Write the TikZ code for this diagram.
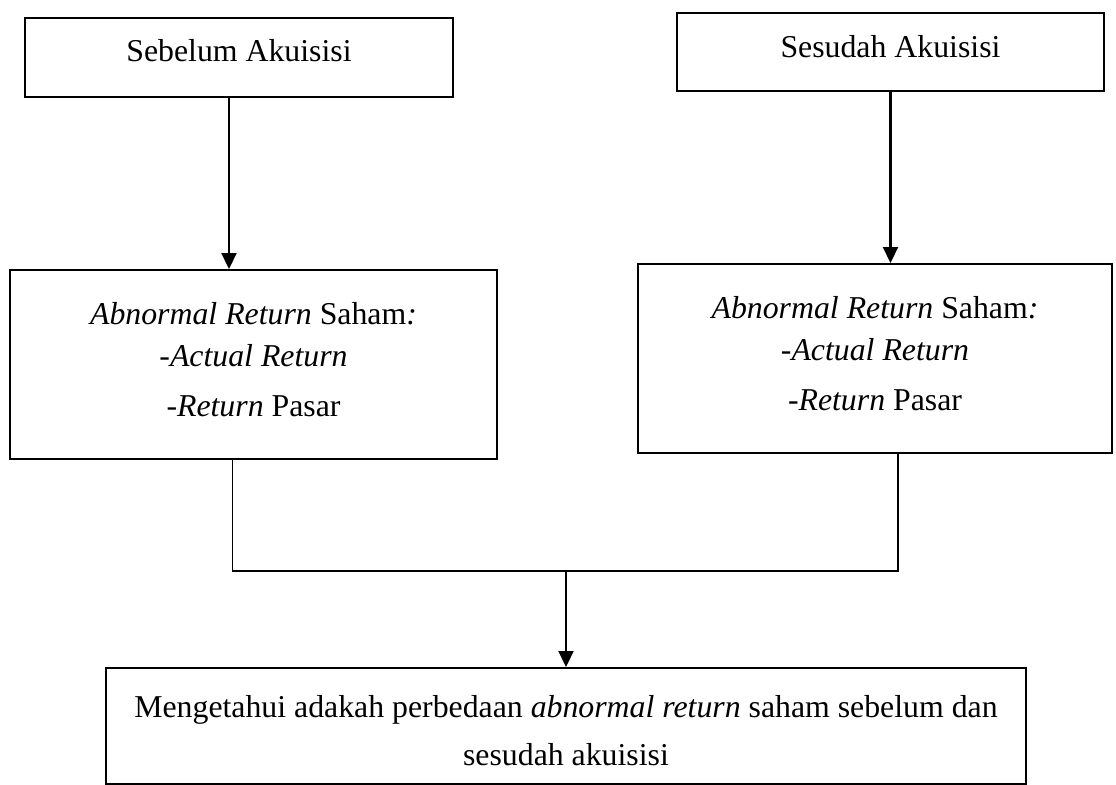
\documentclass[tikz,border=0pt]{standalone}
\usepackage{fontspec}
\setmainfont{Liberation Serif}
\usetikzlibrary{arrows.meta,positioning}

\tikzset{
  box/.style={draw, rectangle, line width=1pt, inner xsep=0pt, inner ysep=0pt,
    align=center, font=\fontsize{15.9}{21}\selectfont},
  link/.style={line width=0.8pt},
}

\begin{document}
\begin{tikzpicture}[x=0.5pt,y=-0.5pt,line width=1.1pt,>={Triangle[width=7.5pt,length=8pt]}]
   \useasboundingbox (0,0) rectangle (1116,784);
   \node[box,anchor=north,minimum width=214pt,text height=21.5pt,text depth=18pt] (sebelum) at (239,17) {Sebelum Akuisisi};
   \node[box,anchor=north,minimum width=213.5pt,text height=22pt,text depth=17pt] (sesudah) at (890.5,12) {Sesudah Akuisisi};
   \node[box,anchor=north,minimum width=243.5pt,text height=73pt,text depth=21.5pt] (ar_pre) at (253.5,269)
        {\textit{Abnormal Return} Saham\textit{:}\\ -\textit{Actual Return}\\[4pt] -\textit{Return} Pasar};
   \node[box,anchor=north,minimum width=237pt,text height=73pt,text depth=21.5pt] (ar_post) at (875,263)
        {\textit{Abnormal Return} Saham\textit{:}\\ -\textit{Actual Return}\\[4pt] -\textit{Return} Pasar};
   \node[box,anchor=north,minimum width=460pt,text height=48.5pt,text depth=9.5pt] (hasil) at (566,667)
        {Mengetahui adakah perbedaan \textit{abnormal return} saham sebelum dan\\[3pt] sesudah akuisisi};
   % \node[box] (uji) [below=of hasil] {};
   \coordinate (join) at (566,571);
    \draw[->] ([xshift=-5pt]sebelum.south) -- ([xshift=-5pt]sebelum.south |- ar_pre.north);
    \draw[->] (sesudah.south) -- (sesudah.south |- ar_post.north);
    \draw[link] ([xshift=-10.5pt]ar_pre.south) |- (join);
    \draw[link] ([xshift=11.5pt]ar_post.south) |- (join);
    \draw[->] (join) -- (join |- hasil.north);
\end{tikzpicture}
\end{document}
